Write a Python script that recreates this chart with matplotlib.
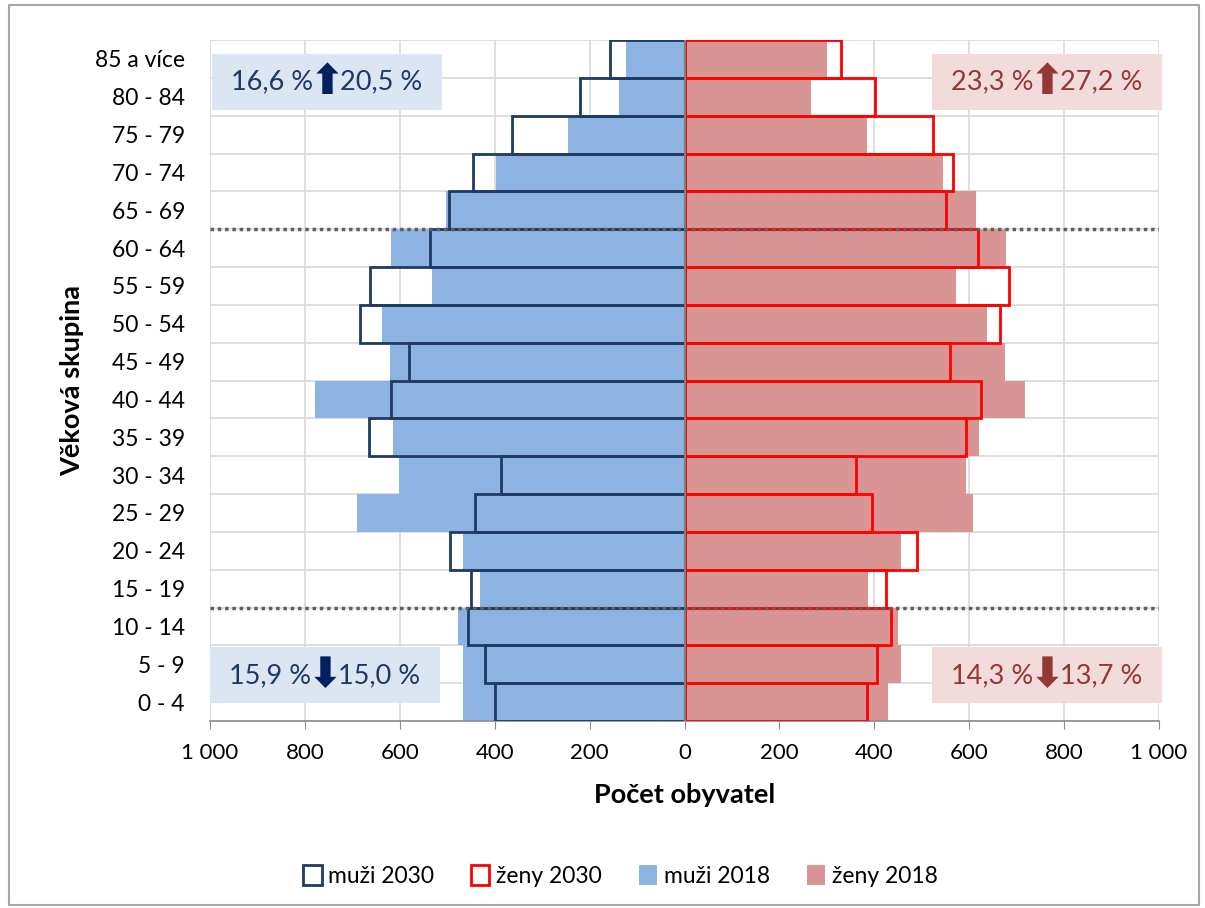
import numpy as np
import matplotlib.pyplot as plt
from matplotlib.patches import Rectangle, Patch

# Age groups (bottom to top)
groups = ['0 - 4', '5 - 9', '10 - 14', '15 - 19', '20 - 24', '25 - 29', '30 - 34',
          '35 - 39', '40 - 44', '45 - 49', '50 - 54', '55 - 59', '60 - 64',
          '65 - 69', '70 - 74', '75 - 79', '80 - 84', '85 a více']

men_2018 = [467, 467, 477, 432, 467, 691, 602, 615, 778, 621, 637, 532, 618,
            502, 398, 246, 137, 124]
men_2030 = [400, 421, 456, 451, 495, 442, 386, 665, 619, 580, 683, 662, 537,
            497, 446, 364, 221, 156]
women_2018 = [429, 456, 449, 387, 456, 607, 593, 621, 718, 675, 637, 572, 677,
              615, 544, 384, 267, 300]
women_2030 = [384, 406, 435, 425, 489, 395, 361, 594, 625, 559, 665, 684, 619,
              551, 565, 524, 402, 330]

x_ticks = [-1000, -800, -600, -400, -200, 0, 200, 400, 600, 800, 1000]
x_tick_labels = ['1 000', '800', '600', '400', '200', '0', '200', '400', '600', '800', '1 000']

box_texts = {
    'top_left': ('16,6 %', '\u2B06', '20,5 %'),
    'top_right': ('23,3 %', '\u2B06', '27,2 %'),
    'bottom_left': ('15,9 %', '\u2B07', '15,0 %'),
    'bottom_right': ('14,3 %', '\u2B07', '13,7 %'),
}

# Colours
c_men18 = '#8DB3E2'
c_women18 = '#D99594'
c_men30 = '#1F3B64'
c_women30 = '#FF0000'

plt.rcParams['font.family'] = ['Lato', 'DejaVu Sans']

fig = plt.figure(figsize=(12.05, 9.08), dpi=100)
W, H = 1205, 908
ax = fig.add_axes([210 / W, 1 - 721 / H, 949 / W, 681 / H])

y = np.arange(len(groups))
ax.barh(y, -np.array(men_2018), height=1.0, color=c_men18, zorder=2)
ax.barh(y, women_2018, height=1.0, color=c_women18, zorder=2)
ax.barh(y, -np.array(men_2030), height=1.0, fill=False, edgecolor=c_men30,
        linewidth=2.0, zorder=3)
ax.barh(y, women_2030, height=1.0, fill=False, edgecolor=c_women30,
        linewidth=2.0, zorder=3)

ax.axvline(0, color='#7F7F7F', linewidth=1.5, zorder=4)

# dotted separators between age bands
for b in [2.5, 12.5]:
    ax.axhline(b, color='#5F5F5F', linestyle=(0, (1, 1.1)), linewidth=2.5, zorder=5)

ax.set_xlim(-1000, 1000)
ax.set_ylim(-0.5, len(groups) - 0.5)
ax.set_xticks(x_ticks)
ax.set_xticklabels(x_tick_labels, fontsize=16)
ax.set_yticks(y)
ax.set_yticklabels(groups, fontsize=16.5)
ax.set_yticks(np.arange(-0.5, len(groups)), minor=True)
ax.tick_params(axis='y', which='both', length=0, pad=18)
ax.tick_params(axis='x', length=6, color='#8C8C8C', pad=10, direction='out')
ax.grid(True, axis='x', color='#D9D9D9', linewidth=1.2, zorder=0)
ax.grid(True, axis='y', which='minor', color='#D9D9D9', linewidth=1.2, zorder=0)
for s in ['left', 'right', 'top']:
    ax.spines[s].set_visible(False)
ax.spines['bottom'].set_color('#8C8C8C')
ax.spines['bottom'].set_linewidth(1.2)

ax.set_xlabel('Počet obyvatel', fontsize=19.5, fontweight='bold', labelpad=14)
ax.set_ylabel('Věková skupina', fontsize=19.5, fontweight='bold', labelpad=8)

# annotation boxes
boxes = [
    ('top_left', 0.002, 0.897, '#DCE6F2', '#1F3864', '#002060'),
    ('top_right', 0.761, 0.897, '#F2DCDB', '#953735', '#953735'),
    ('bottom_left', 0.0, 0.026, '#DCE6F2', '#1F3864', '#002060'),
    ('bottom_right', 0.761, 0.026, '#F2DCDB', '#953735', '#953735'),
]
for key, bx, by, fc, tc, ac in boxes:
    bw, bh = 0.242, 0.082
    ax.add_patch(Rectangle((bx, by), bw, bh, transform=ax.transAxes,
                           facecolor=fc, edgecolor='none', zorder=6, clip_on=False))
    left, arrow, right = box_texts[key]
    cx, cy = bx + bw / 2, by + bh / 2
    ax.text(cx - 0.014, cy, left, transform=ax.transAxes, ha='right', va='center',
            fontsize=19.5, color=tc, zorder=7)
    ax.text(cx, cy, arrow, transform=ax.transAxes, ha='center', va='center',
            fontsize=30, color=ac, family=['DejaVu Sans'], fontweight='bold', zorder=7)
    ax.text(cx + 0.014, cy, right, transform=ax.transAxes, ha='left', va='center',
            fontsize=19.5, color=tc, zorder=7)

# legend
handles = [
    Patch(facecolor='white', edgecolor=c_men30, linewidth=2.0, label='muži 2030'),
    Patch(facecolor='white', edgecolor=c_women30, linewidth=2.0, label='ženy 2030'),
    Patch(facecolor=c_men18, edgecolor='none', label='muži 2018'),
    Patch(facecolor=c_women18, edgecolor='none', label='ženy 2018'),
]
fig.legend(handles=handles, loc='center', bbox_to_anchor=(0.515, 1 - 876 / H),
           ncol=4, frameon=False, fontsize=16.5, handlelength=0.8, handleheight=1.0,
           handletextpad=0.3, columnspacing=1.6)

# chart border
fig.add_artist(Rectangle((9 / W, 3 / H), 1190 / W, 900 / H, transform=fig.transFigure,
                         fill=False, edgecolor='#A6A6A6', linewidth=1.5))

fig.savefig('out.png', dpi=100)
